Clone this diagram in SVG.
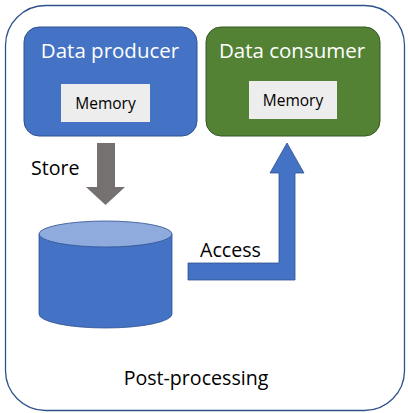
<svg xmlns="http://www.w3.org/2000/svg" width="408" height="413" viewBox="0 0 408 413">
  <style>
    .lbl { font-family: "Open Sans", "Liberation Sans", sans-serif; font-size: 19.6px; fill: #000; }
    .title { font-family: "Open Sans", "Liberation Sans", sans-serif; font-size: 20.5px; fill: #ffffff; text-anchor: middle; }
    .mem { fill: #EDEDED; }
    .memtxt { font-family: "Open Sans", "Liberation Sans", sans-serif; font-size: 15.5px; fill: #000; text-anchor: middle; }
  </style>
  <rect width="408" height="413" fill="#ffffff"/>

  <!-- post-processing frame -->
  <g id="post-processing">
    <rect x="5.5" y="5.5" width="399" height="405" rx="40" ry="40" fill="#ffffff" stroke="#2F528F" stroke-width="1.3"/>
    <text class="lbl" x="196" y="385" text-anchor="middle">Post-processing</text>
  </g>

  <g id="producer">
    <rect x="24" y="27" width="173" height="109" rx="15" ry="15" fill="#4472C4" stroke="#2F528F" stroke-width="1"/>
    <text class="title" x="110" y="58">Data producer</text>
    <rect class="mem" x="61" y="84" width="89" height="38"/>
    <text class="memtxt" x="105.5" y="108.5">Memory</text>
  </g>

  <g id="consumer">
    <rect x="206" y="27" width="174" height="109" rx="15" ry="15" fill="#548235" stroke="#385723" stroke-width="1"/>
    <text class="title" x="292" y="58">Data consumer</text>
    <rect class="mem" x="249" y="81" width="88" height="38"/>
    <text class="memtxt" x="293" y="105.5">Memory</text>
  </g>

  <g id="storage">
    <path d="M39 234 L39 314 A66.5 14 0 0 0 172 314 L172 234 Z" fill="#4472C4" stroke="#2F528F" stroke-width="0.8"/>
    <ellipse cx="105.5" cy="234" rx="66.5" ry="13" fill="#8FAADC" stroke="#2F528F" stroke-width="0.8"/>
  </g>

  <g id="connectors">
    <!-- store: producer to storage -->
    <path d="M97 143 L115 143 L115 187 L125 187 L105.5 205 L86 187 L97 187 Z" fill="#767171"/>
    <text class="lbl" x="31" y="175">Store</text>
    <!-- access: storage to consumer -->
    <path d="M188 263 L279 263 L279 173 L270 173 L287 143 L304 173 L295 173 L295 280 L188 280 Z" fill="#4472C4" stroke="#2F528F" stroke-width="0.8"/>
    <text class="lbl" x="200" y="257">Access</text>
  </g>
</svg>
